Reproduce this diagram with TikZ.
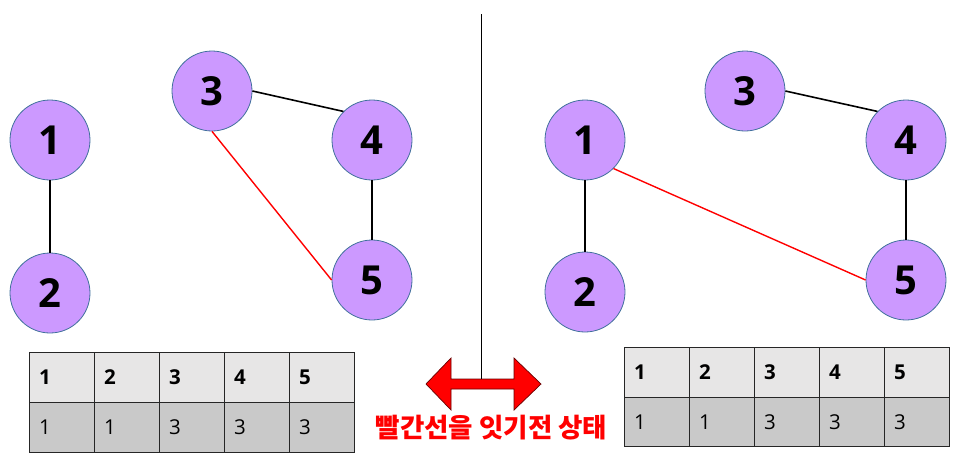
\documentclass[tikz,border=0pt]{standalone}
\usepackage{fontspec}
\setmainfont{Open Sans}
\newfontfamily\krfont{Noto Sans CJK KR}
\definecolor{nodefill}{HTML}{CC99FF}
\definecolor{nodeline}{HTML}{41719C}
\definecolor{hdrfill}{HTML}{E7E6E6}
\definecolor{rowfill}{HTML}{C9C9C9}
\tikzset{
  vnode/.style={circle, draw=nodeline, line width=0.8pt, fill=nodefill, minimum size=80pt, inner sep=0pt, font=\fontsize{40}{40}\selectfont\bfseries},
  blk/.style={draw=black, line width=1.6pt},
  redln/.style={draw=red, line width=1.4pt},
  hdrcell/.style={draw=black!85, line width=0.9pt, fill=hdrfill},
  rowcell/.style={draw=black!85, line width=0.9pt, fill=rowfill},
  hdrtxt/.style={anchor=west, font=\fontsize{20.5}{20}\selectfont\bfseries, inner sep=0pt},
  rowtxt/.style={anchor=west, font=\fontsize{20.5}{20}\selectfont, inner sep=0pt},
  bigarrow/.style={fill=red, draw=black!60!red, line width=0.7pt, line join=miter},
}
\begin{document}
\begin{tikzpicture}[x=1pt,y=-1pt]
\useasboundingbox (0,0) rectangle (972,459);
% left graph
\node[vnode] (l1) at (50,140) {1};
\node[vnode] (l2) at (50,293) {2};
\node[vnode] (l3) at (212,91) {3};
\node[vnode] (l4) at (372,140) {4};
\node[vnode] (l5) at (372,280) {5};
\draw[blk] (l1.south) -- (l2.north);
\draw[blk] (l3.east) -- (l4.north west);
\draw[blk] (l4.south) -- (l5.north);
\draw[redln] (l3.south) -- (l5.west);
% right graph
\node[vnode] (r1) at (585,140) {1};
\node[vnode] (r2) at (585,292) {2};
\node[vnode] (r3) at (745,91) {3};
\node[vnode] (r4) at (906,140) {4};
\node[vnode] (r5) at (906,280) {5};
\draw[blk] (r1.south) -- (r2.north);
\draw[blk] (r3.east) -- (r4.north west);
\draw[blk] (r4.south) -- (r5.north);
\draw[redln] (r1.south east) -- (r5.west);
% double arrow
\draw[bigarrow] (426,384) -- (451,358) -- (451,379) -- (514,379) -- (514,358) -- (541,384)
  -- (514,410) -- (514,389) -- (451,389) -- (451,410) -- cycle;
% divider
\coordinate (top) at (481.5,14);
\coordinate (bot) at (481.5,379);
\draw[black, line width=0.9pt] (top) -- (bot);
\node[text=red, font=\krfont\bfseries\fontsize{26.5}{26.5}\selectfont, inner sep=0pt] (lbl) at (491.5,428) {빨간선을 잇기전 상태};
% left table
\foreach \i/\v in {0/1,1/2,2/3,3/4,4/5}{
  \node[hdrcell, minimum width=65pt, minimum height=50pt, anchor=north west, inner sep=0pt] (lh\i) at (29+65*\i,352) {};
  \node[hdrtxt] at ([xshift=10pt]lh\i.west) {\v};
}
\foreach \i/\v in {0/1,1/1,2/3,3/3,4/3}{
  \node[rowcell, minimum width=65pt, minimum height=50pt, anchor=north west, inner sep=0pt] (lr\i) at (29+65*\i,402) {};
  \node[rowtxt] at ([xshift=10pt]lr\i.west) {\v};
}
% right table
\foreach \i/\v in {0/1,1/2,2/3,3/4,4/5}{
  \node[hdrcell, minimum width=65pt, minimum height=50pt, anchor=north west, inner sep=0pt] (rh\i) at (624+65*\i,347) {};
  \node[hdrtxt] at ([xshift=10pt]rh\i.west) {\v};
}
\foreach \i/\v in {0/1,1/1,2/3,3/3,4/3}{
  \node[rowcell, minimum width=65pt, minimum height=49pt, anchor=north west, inner sep=0pt] (rr\i) at (624+65*\i,397) {};
  \node[rowtxt] at ([xshift=10pt]rr\i.west) {\v};
}
\end{tikzpicture}
\end{document}
